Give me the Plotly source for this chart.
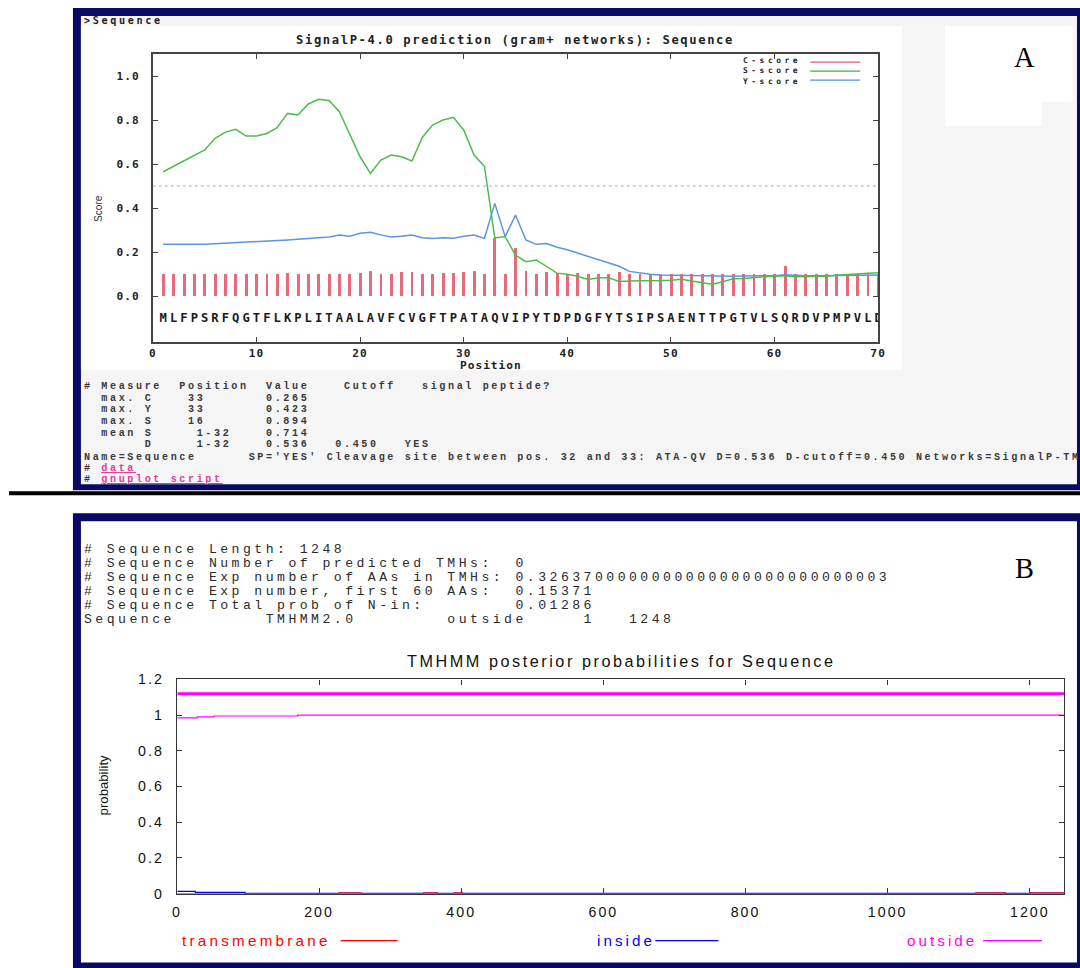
import plotly.graph_objects as go

# Page geometry: the photographed picture maps page pixels (x, y) to about (4 + 0.989x, 8 + 0.983y),
# so layout positions below are given in picture pixels and converted back to page pixels.
SX, TX = 0.989, 4.0
SY, TY = 0.983, 8.0
FS = 1.0 / 0.986
FW, FH = 1089, 978

# ---------------- Panel A: SignalP-4.0 data ----------------
positions = list(range(1, 71))
sequence = list("MLFPSRFQGTFLKPLITAALAVFCVGFTPATAQVIPYTDPDGFYTSIPSAENTTPGTVLSQRDVPMPVLD")
c_score = [0.100, 0.100, 0.100, 0.100, 0.100, 0.100, 0.100, 0.100, 0.100, 0.102,
           0.100, 0.100, 0.103, 0.100, 0.100, 0.098, 0.102, 0.102, 0.098, 0.105,
           0.112, 0.100, 0.100, 0.107, 0.107, 0.100, 0.102, 0.103, 0.103, 0.108,
           0.113, 0.102, 0.265, 0.100, 0.220, 0.112, 0.100, 0.110, 0.105, 0.100,
           0.105, 0.100, 0.100, 0.102, 0.110, 0.100, 0.100, 0.100, 0.100, 0.100,
           0.100, 0.100, 0.100, 0.100, 0.100, 0.100, 0.100, 0.100, 0.100, 0.100,
           0.135, 0.102, 0.100, 0.100, 0.100, 0.100, 0.100, 0.100, 0.100, 0.100]
s_score = [0.565, 0.590, 0.615, 0.640, 0.664, 0.717, 0.745, 0.758, 0.727, 0.727,
           0.739, 0.765, 0.830, 0.823, 0.873, 0.894, 0.889, 0.838, 0.739, 0.633,
           0.557, 0.618, 0.641, 0.633, 0.614, 0.721, 0.777, 0.800, 0.812, 0.755,
           0.641, 0.590, 0.264, 0.270, 0.186, 0.156, 0.164, 0.133, 0.104, 0.099,
           0.090, 0.075, 0.083, 0.083, 0.066, 0.068, 0.068, 0.068, 0.070, 0.072,
           0.076, 0.068, 0.060, 0.054, 0.065, 0.078, 0.080, 0.085, 0.088, 0.090,
           0.092, 0.088, 0.088, 0.090, 0.090, 0.094, 0.098, 0.100, 0.103, 0.106]
y_score = [0.235, 0.235, 0.232, 0.233, 0.235, 0.238, 0.240, 0.244, 0.246, 0.248,
           0.250, 0.251, 0.255, 0.258, 0.262, 0.263, 0.268, 0.277, 0.272, 0.285,
           0.290, 0.278, 0.268, 0.272, 0.277, 0.265, 0.262, 0.265, 0.263, 0.272,
           0.277, 0.262, 0.421, 0.270, 0.368, 0.255, 0.235, 0.239, 0.222, 0.210,
           0.195, 0.182, 0.167, 0.152, 0.135, 0.112, 0.104, 0.099, 0.096, 0.095,
           0.095, 0.093, 0.091, 0.090, 0.090, 0.090, 0.091, 0.091, 0.092, 0.092,
           0.097, 0.093, 0.092, 0.092, 0.093, 0.094, 0.094, 0.095, 0.096, 0.096]
d_cutoff_line = 0.5
a_xticks = [0, 10, 20, 30, 40, 50, 60, 70]
a_yticks = [0.0, 0.2, 0.4, 0.6, 0.8, 1.0]
a_yticklabels = ["0.0", "0.2", "0.4", "0.6", "0.8", "1.0"]

# ---------------- Panel B: TMHMM data ----------------
outside_bar_x = [1, 1248]
outside_bar_y = [1.12, 1.12]
outside_x = [1, 29, 52, 170, 1248]
outside_y = [0.985, 0.990, 0.995, 1.000, 1.000]
inside_x = [1, 26, 96, 1248]
inside_y = [0.012, 0.007, 0.001, 0.001]
tm_x = [1, 228, 259, 347, 367, 390, 402, 1124, 1166, 1200, 1248]
tm_y = [0.0, 0.004, 0.0, 0.004, 0.0, 0.004, 0.0, 0.004, 0.0, 0.004, 0.004]
b_xticks = [0, 200, 400, 600, 800, 1000, 1200]
b_yticks = [0, 0.2, 0.4, 0.6, 0.8, 1.0, 1.2]
b_yticklabels = ["0", "0.2", "0.4", "0.6", "0.8", "1", "1.2"]

NAVY = "#0a0a64"
MONO = "Liberation Mono"
BMONO = "DejaVu Sans Mono"
SANS = "Liberation Sans"


def px(x):
    return ((x - TX) / SX) / FW


def py(y):
    return 1 - ((y - TY) / SY) / FH


def ls(s, sp):
    s = s.replace(" ", "\u00a0")
    return f"<span style='letter-spacing:{sp * FS:.2f}px'>{s}</span>"


fig = go.Figure()

# Panel A traces
fig.add_trace(go.Bar(x=positions, y=c_score, width=0.28, marker=dict(color="#e86a78", line=dict(width=0)),
                     xaxis="x", yaxis="y", showlegend=False))
fig.add_trace(go.Scatter(x=positions, y=y_score, mode="lines", line=dict(color="#5a96e0", width=1.5),
                         xaxis="x", yaxis="y", showlegend=False))
fig.add_trace(go.Scatter(x=positions, y=s_score, mode="lines", line=dict(color="#4cbc4c", width=1.5),
                         xaxis="x", yaxis="y", showlegend=False))
fig.add_trace(go.Scatter(x=positions, y=[-0.105] * len(positions), mode="text", text=sequence,
                         textfont=dict(family=BMONO, size=12 * FS, color="#1a1a1a", weight="bold"),
                         textposition="middle center",
                         xaxis="x", yaxis="y", showlegend=False))

# Panel B traces
fig.add_trace(go.Scatter(x=tm_x, y=tm_y, mode="lines", line=dict(color="#ff0000", width=1.2, shape="hv"),
                         xaxis="x2", yaxis="y2", showlegend=False))
fig.add_trace(go.Scatter(x=inside_x, y=inside_y, mode="lines", line=dict(color="#0000ff", width=1.2, shape="hv"),
                         xaxis="x2", yaxis="y2", showlegend=False))
fig.add_trace(go.Scatter(x=outside_x, y=outside_y, mode="lines", line=dict(color="#ff00ff", width=1.2, shape="hv"),
                         xaxis="x2", yaxis="y2", showlegend=False))
fig.add_trace(go.Scatter(x=outside_bar_x, y=outside_bar_y, mode="lines", line=dict(color="#ff00ff", width=3),
                         xaxis="x2", yaxis="y2", showlegend=False))

shapes = []


def rect(x0, y0, x1, y1, color):
    shapes.append(dict(type="rect", xref="paper", yref="paper", x0=px(x0), x1=px(x1), y0=py(y1), y1=py(y0),
                       fillcolor=color, line=dict(width=0), layer="below"))


# Frames
rect(72, 8, 1082, 490, NAVY)
rect(80, 16, 1077, 484, "#f5f5f5")
rect(80, 26, 902, 370, "#ffffff")
rect(945, 26, 1073, 102, "#ffffff")
rect(945, 26, 1042, 126, "#ffffff")
rect(8, 491, 1082, 495, "#000000")
rect(72, 513, 1082, 970, NAVY)
rect(80, 521, 1077, 962, "#ffffff")

# cutoff dotted line
shapes.append(dict(type="line", xref="x", yref="y", x0=0, x1=70, y0=d_cutoff_line, y1=d_cutoff_line,
                   line=dict(color="#9aaae0", width=1.2, dash="dot")))


def hline(x0, x1, y, color, width=1.2):
    shapes.append(dict(type="line", xref="paper", yref="paper", x0=px(x0), x1=px(x1), y0=py(y), y1=py(y),
                       line=dict(color=color, width=width)))


# legend lines
hline(810, 860, 62, "#e06070")
hline(810, 860, 71, "#40b040")
hline(810, 860, 80, "#5090e0")
hline(340, 397, 940, "#ff0000")
hline(655, 718, 940, "#0000ff")
hline(983, 1042, 940, "#ff00ff")

annotations = []


def ann(text, x, y, family, size, color, xanchor="left", yanchor="middle", angle=0, align="left"):
    annotations.append(dict(text=text, x=px(x), y=py(y), xref="paper", yref="paper", showarrow=False,
                            xanchor=xanchor, yanchor=yanchor, textangle=angle, align=align,
                            font=dict(family=family, size=size * FS, color=color), borderpad=0))


# Panel A texts
ann("<b>" + ls("&gt;Sequence", 2.6) + "</b>", 82, 20, BMONO, 10, "#222")
ann("<b>" + ls("SignalP-4.0 prediction (gram+ networks): Sequence", 1.6) + "</b>", 514, 40, BMONO, 12, "#222",
    xanchor="center")
ann("<b>" + ls("C-score", 3.5) + "<br>" + ls("S-score", 3.5) + "<br>" + ls("Y-score", 3.5) + "</b>",
    802, 71, BMONO, 7.8, "#222", xanchor="right", align="right")
ann("<b>" + ls("Position", 1.0) + "</b>", 490, 365, BMONO, 11, "#222", xanchor="center")
ann("Score", 97, 208, SANS, 10, "#333", xanchor="center", angle=-90)
ann("A", 1024, 57, "Liberation Serif", 28, "#000", xanchor="center")
ann("B", 1024, 568, "Liberation Serif", 28, "#000", xanchor="center")

a_lines = [
    "# Measure  Position  Value    Cutoff   signal peptide?",
    "  max. C    33       0.265",
    "  max. Y    33       0.423",
    "  max. S    16       0.894",
    "  mean S     1-32    0.714",
    "       D     1-32    0.536   0.450   YES",
    "Name=Sequence      SP='YES' Cleavage site between pos. 32 and 33: ATA-QV D=0.536 D-cutoff=0.450 Networks=SignalP-TM",
]
a_rows = [386, 398, 409, 421, 433, 444, 457]
for t, yy in zip(a_lines, a_rows):
    ann("<b>" + ls(t, 2.55) + "</b>", 82, yy, MONO, 10, "#3a3a3a")
pink_u = "<span style='letter-spacing:%.2fpx;color:#e0409a;text-decoration:underline'>" % (2.55 * FS)
ann("<b>" + ls("# ", 2.55) + pink_u + "data</span></b>", 82, 468, MONO, 10, "#3a3a3a")
ann("<b>" + ls("# ", 2.55) + pink_u + "gnuplot\u00a0script</span></b>", 82, 479, MONO, 10, "#3a3a3a")

# Panel B texts
b_lines = [
    "# Sequence Length: 1248",
    "# Sequence Number of predicted TMHs:  0",
    "# Sequence Exp number of AAs in TMHs: 0.32637" + "0000000000000000000000000" + "3",
    "# Sequence Exp number, first 60 AAs:  0.15371",
    "# Sequence Total prob of N-in:        0.01286",
    "Sequence        TMHMM2.0        outside     1   1248",
]
b_rows = [549, 563, 577, 591, 605, 619]
for t, yy in zip(b_lines, b_rows):
    ann(ls(t, 3.4), 82, yy, MONO, 13, "#2a2a2a")

ann(ls("TMHMM posterior probabilities for Sequence", 2.5), 621, 661, SANS, 16, "#111", xanchor="center")
ann("probability", 103, 785, SANS, 13, "#111", xanchor="center", angle=-90)
ann(ls("transmembrane", 3.2), 180, 940, SANS, 15, "#ff0000")
ann(ls("inside", 3.0), 596, 940, SANS, 15, "#0000ff")
ann(ls("outside", 3.0), 906, 940, SANS, 15, "#ff00ff")

axis_common = dict(showgrid=False, zeroline=False, showline=True, ticks="inside", mirror="allticks",
                   fixedrange=True)

fig.update_layout(
    width=FW, height=FH,
    margin=dict(l=0, r=0, t=0, b=0),
    paper_bgcolor="#ffffff",
    plot_bgcolor="rgba(0,0,0,0)",
    showlegend=False,
    bargap=0,
    xaxis=dict(domain=[px(152), px(878)], range=[0, 70], anchor="y",
               tickvals=a_xticks, ticktext=["<b>" + ls(str(v), 1.1) + "</b>" for v in a_xticks],
               tickfont=dict(family=BMONO, size=11 * FS, color="#222"), ticklen=5, tickcolor="#444",
               linecolor="#444", linewidth=1.5, ticklabelstandoff=0, **axis_common),
    yaxis=dict(domain=[py(342), py(54)], range=[-0.21, 1.1], anchor="x",
               tickvals=a_yticks, ticktext=["<b>" + ls(s, 1.1) + "</b>" for s in a_yticklabels],
               tickfont=dict(family=BMONO, size=11 * FS, color="#222"), ticklen=5, tickcolor="#444",
               linecolor="#444", linewidth=1.5, ticklabelstandoff=9, **axis_common),
    xaxis2=dict(domain=[px(176), px(1064)], range=[0, 1248], anchor="y2",
                tickvals=b_xticks, ticktext=[ls(str(v), 2) for v in b_xticks],
                tickfont=dict(family=SANS, size=14 * FS, color="#111"), ticklen=5, tickcolor="#333",
                linecolor="#333", linewidth=1.2, ticklabelstandoff=5, **axis_common),
    yaxis2=dict(domain=[py(893), py(679)], range=[0, 1.2], anchor="x2",
                tickvals=b_yticks, ticktext=[ls(s, 2) for s in b_yticklabels],
                tickfont=dict(family=SANS, size=14 * FS, color="#111"), ticklen=5, tickcolor="#333",
                linecolor="#333", linewidth=1.2, ticklabelstandoff=9, **axis_common),
    shapes=shapes,
    annotations=annotations,
)

fig.write_html("out.html", config={"displayModeBar": False},
               post_script="document.body.style.margin='0';document.body.style.padding='0';"
                           "document.documentElement.style.overflow='hidden';")
